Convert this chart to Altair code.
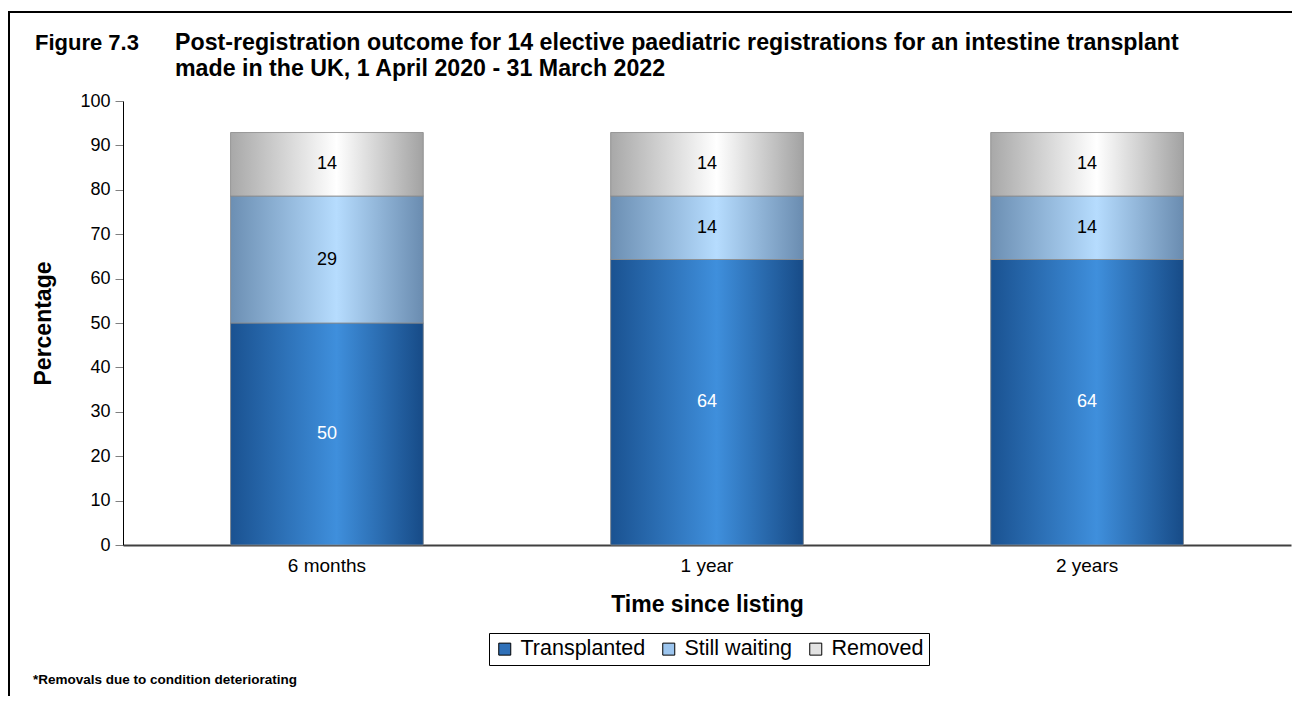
import altair as alt
import pandas as pd

# ---- data ----
times = ["6 months", "1 year", "2 years"]
outcomes = ["Transplanted", "Still waiting", "Removed"]
transplanted = [50.0, 64.3, 64.3]
still_waiting = [28.6, 14.3, 14.3]
removed = [14.3, 14.3, 14.3]

title_prefix = "Figure 7.3"
title_line1 = "Post-registration outcome for 14 elective paediatric registrations for an intestine transplant"
title_line2 = "made in the UK, 1 April 2020 - 31 March 2022"
footnote = "*Removals due to condition deteriorating"

rows = []
for i, t in enumerate(times):
    for j, (o, vals) in enumerate(zip(outcomes, [transplanted, still_waiting, removed])):
        rows.append({"time": t, "outcome": o, "order": j, "value": vals[i]})
df = pd.DataFrame(rows)

FONT = "Liberation Sans"
W, H = 1168, 444

def grad(c_edge_l, c_mid, c_edge_r):
    return alt.LinearGradient(
        gradient="linear", x1=0, x2=1, y1=0, y2=0,
        stops=[alt.GradientStop(color=c_edge_l, offset=0),
               alt.GradientStop(color=c_mid, offset=0.55),
               alt.GradientStop(color=c_edge_r, offset=1)])

grads = {
    "Transplanted": grad("#1a5291", "#3f8fdc", "#174b87"),
    "Still waiting": grad("#6c8fb3", "#b6dcfe", "#6a8cb0"),
    "Removed": grad("#a8a8a8", "#ffffff", "#a2a2a2"),
}
flat = ["#2f70b8", "#9cc5ee", "#e2e2e2"]

x_enc = alt.X("time:N", sort=times,
              scale=alt.Scale(paddingInner=0.493, paddingOuter=0.283),
              axis=alt.Axis(title="Time since listing", labelAngle=0, ticks=False,
                            labelFontSize=19, labelFont=FONT, labelColor="#000",
                            labelPadding=11, titleFontSize=23, titleFont=FONT,
                            titleFontWeight="bold", titlePadding=18, titleColor="#000",
                            domainColor="#404040", domainWidth=2, grid=False))
y_enc = alt.Y("y0:Q", scale=alt.Scale(domain=[0, 100], nice=False),
              axis=alt.Axis(title="Percentage", values=list(range(0, 101, 10)),
                            labelFontSize=18, labelFont=FONT, labelColor="#000",
                            tickColor="#808080", tickSize=8, labelPadding=5,
                            domainColor="#000", domainWidth=1, grid=False,
                            titleFontSize=23, titleFont=FONT, titleFontWeight="bold",
                            titleColor="#000", titlePadding=24))

base = alt.Chart(df).transform_stack(
    stack="value", groupby=["time"], as_=["y0", "y1"],
    sort=[alt.SortField("order", order="ascending")]
).transform_calculate(mid="(datum.y0 + datum.y1) / 2")

legend_bars = base.mark_bar().encode(
    x=x_enc, y=y_enc, y2="y1:Q",
    color=alt.Color("outcome:N", sort=outcomes,
                    scale=alt.Scale(domain=outcomes, range=flat),
                    legend=alt.Legend(title=None, orient="none", legendX=366, legendY=532,
                                      direction="horizontal", symbolType="square",
                                      symbolSize=144, symbolStrokeColor="#000",
                                      symbolStrokeWidth=1, labelFontSize=21.5,
                                      labelFont=FONT, labelColor="#000",
                                      strokeColor="#000", padding=5, columnPadding=12,
                                      labelOffset=5)),
)

grad_layers = []
for o in outcomes:
    grad_layers.append(
        base.transform_filter(alt.datum.outcome == o).mark_bar(
            fill=grads[o], stroke="#8a8a8a", strokeWidth=1, strokeOpacity=0.8
        ).encode(x=alt.X("time:N", sort=times), y="y0:Q", y2="y1:Q")
    )

labels = base.mark_text(fontSize=18, font=FONT, baseline="middle").encode(
    x=alt.X("time:N", sort=times), y="mid:Q",
    text=alt.Text("value:Q", format=".0f"),
    color=alt.condition(alt.datum.outcome == "Transplanted", alt.value("#ffffff"), alt.value("#000000")),
)

one = pd.DataFrame({"k": [0]})
border = alt.Chart(one).mark_rect(fill=None, stroke="#000", strokeWidth=2).encode(
    x=alt.value(-114), x2=alt.value(1300), y=alt.value(-89), y2=alt.value(700))

def txt(s, x, y, size, weight="bold"):
    return alt.Chart(one).mark_text(text=s, align="left", baseline="middle", fontSize=size,
                                   font=FONT, fontWeight=weight, color="#000").encode(
        x=alt.value(x), y=alt.value(y))

t1 = txt(title_prefix, -88, -58, 22)
t2 = txt(title_line1, 52, -58, 23.2)
t3 = txt(title_line2, 52, -32, 23.2)
fn = txt(footnote, -90, 579, 13.5)

chart = alt.layer(border, legend_bars, *grad_layers, labels, t1, t2, t3, fn).properties(
    width=W, height=H,
    autosize=alt.AutoSizeParams(type="none"),
    padding={"left": 115, "top": 93, "right": 1, "bottom": 151},
).configure(background="white").configure_view(stroke=None)

chart.save("out.html", embed_options={"renderer": "svg", "actions": False})
